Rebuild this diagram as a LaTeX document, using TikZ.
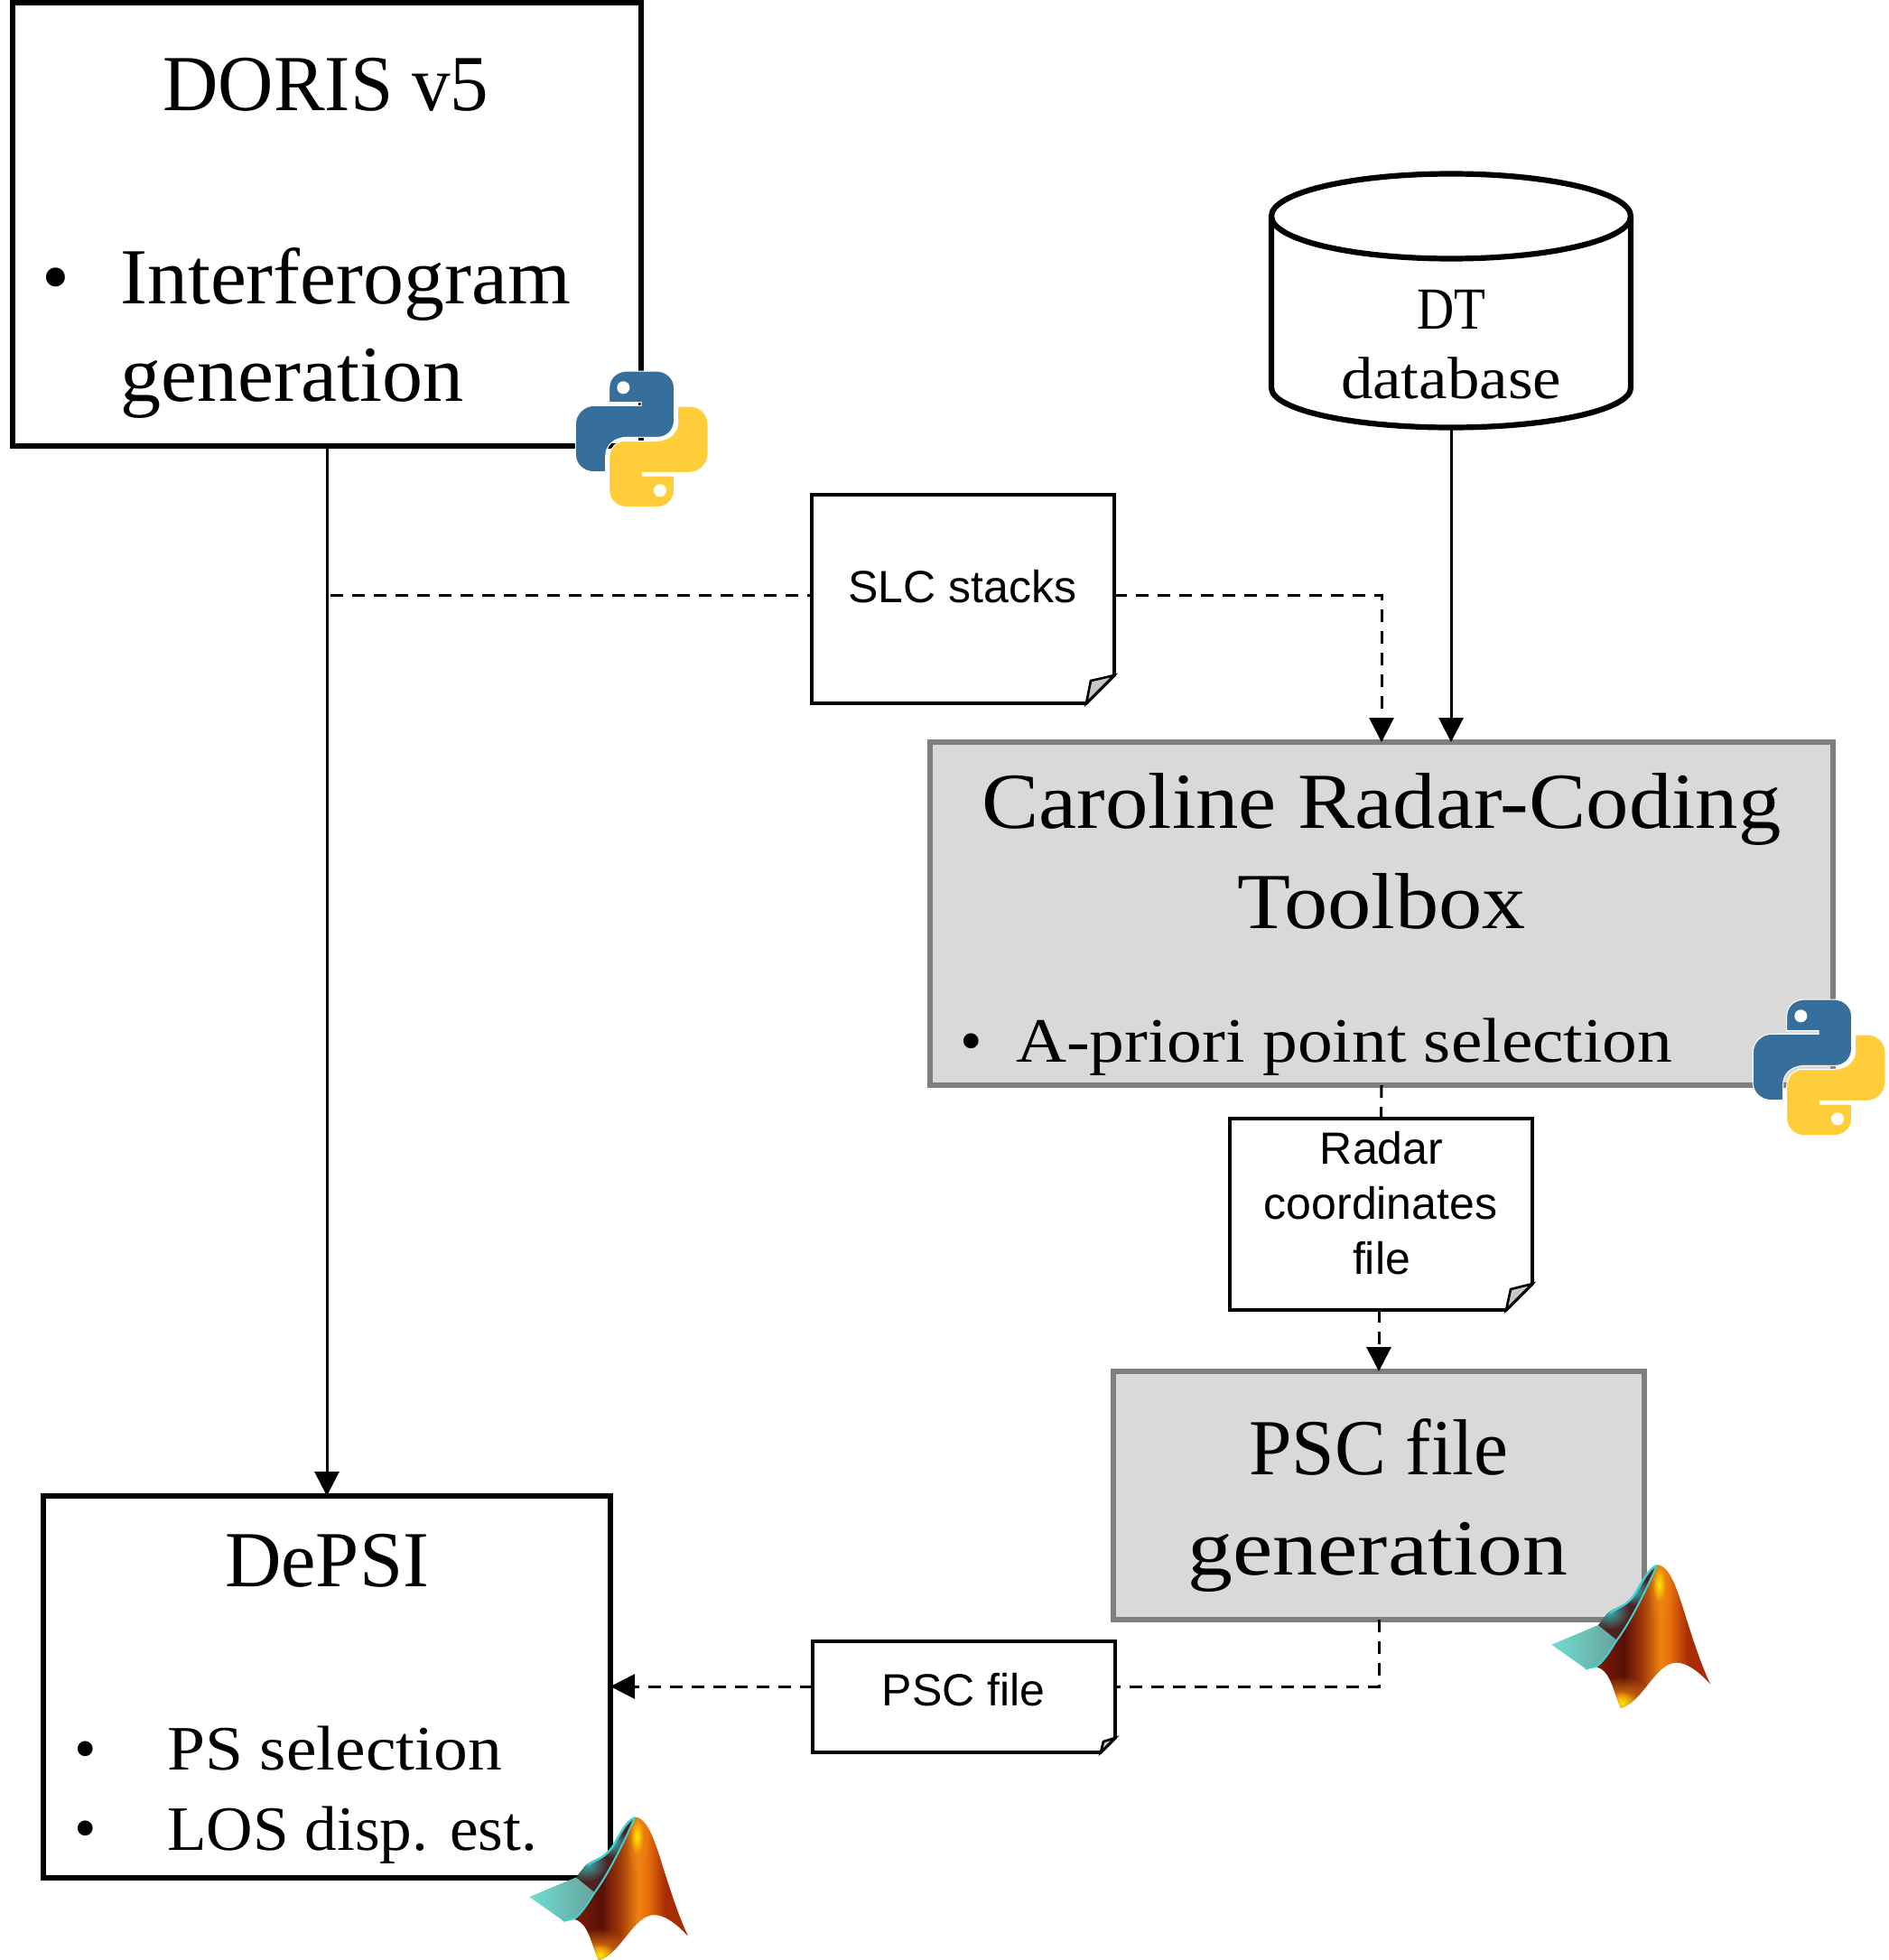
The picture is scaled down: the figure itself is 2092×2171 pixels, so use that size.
\documentclass[tikz,border=0pt]{standalone}
\usepackage{fontspec}
\usepackage{graphicx}
\setmainfont{Liberation Serif}
\newfontfamily\notefont{Liberation Sans}
\usetikzlibrary{arrows.meta,calc,fadings}
\tikzfading[name=spot, inner color=transparent!0, outer color=transparent!100]
\definecolor{boxgrey}{HTML}{D9D9D9}
\definecolor{edgegrey}{HTML}{7F7F7F}
\definecolor{pyblue}{HTML}{366E9C}
\definecolor{pyyellow}{HTML}{FFCC3A}
\definecolor{mla}{HTML}{7A1A06}
\definecolor{mlb}{HTML}{5A1006}
\definecolor{mlc}{HTML}{A0380A}
\definecolor{mld}{HTML}{EE8410}
\definecolor{mle}{HTML}{E8700C}
\definecolor{mlf}{HTML}{A82C06}
\definecolor{mlteal}{HTML}{70DDD0}
\definecolor{mlgrey}{HTML}{66A09A}
\definecolor{mlcyan}{HTML}{40D0D0}
\definecolor{mldark}{HTML}{4F2020}
\definecolor{mlyellow}{HTML}{FFE800}
\pgfdeclarehorizontalshading{mlbody}{100bp}{color(0bp)=(mla); color(25bp)=(mla); color(37bp)=(mlb); color(45bp)=(mlc); color(53bp)=(mld); color(57bp)=(mle); color(65bp)=(mlf); color(100bp)=(mlf)}
\newcommand{\fitw}[3]{\resizebox{#1pt}{\height}{\fontsize{#2pt}{#2pt}\selectfont #3}}
\tikzset{
  plainbox/.style={draw=black,line width=6pt,fill=white,inner sep=0pt,outer sep=0pt},
  greybox/.style={draw=edgegrey,line width=6pt,fill=boxgrey,inner sep=0pt,outer sep=0pt},
  notebox/.style={inner sep=0pt,outer sep=0pt},
  notepath/.style={draw=black,line width=3.6pt,fill=white,line join=miter},
  foldpath/.style={draw=black,line width=2.6pt,fill=black!22,line join=miter},
  cylpath/.style={draw=black,line width=6.2pt,fill=white,line join=round},
  solidflow/.style={draw=black,line width=3pt,-{Triangle[length=27pt,width=27pt]}},
  dashflow/.style={draw=black,line width=3pt,dash pattern=on 14pt off 10pt},
  dashhead/.style={dashflow,-{Triangle[length=27pt,width=27pt]}},
  bigtext/.style={inner sep=0pt,anchor=base,text=black},
  leftext/.style={inner sep=0pt,anchor=base west,text=black},
  sanstext/.style={inner sep=0pt,anchor=base,text=black,font=\notefont\fontsize{50pt}{50pt}\selectfont},
  pics/python/.style={code={
    \begin{scope}[scale=1/3]
    \path[fill=pyblue,draw=white,line width=1pt] (224,197) -- (224,150) .. controls (224,115) and (250,93) .. (285,93)
      -- (380,93) .. controls (415,93) and (440,118) .. (440,150) -- (440,255) .. controls (440,290) and (415,313) .. (385,313)
      -- (285,313) .. controls (240,313) and (212,340) .. (212,375) -- (212,428) -- (175,428)
      .. controls (135,428) and (112,400) .. (112,370) -- (112,270) .. controls (112,235) and (140,208) .. (175,208)
      -- (330,208) -- (330,197) -- cycle;
    \path[fill=white] (271,148) circle (21);
    \path[fill=pyyellow,draw=white,line width=1pt] (440,441) -- (440,488) .. controls (440,523) and (414,545) .. (379,545)
      -- (284,545) .. controls (249,545) and (224,520) .. (224,488) -- (224,383) .. controls (224,348) and (249,325) .. (279,325)
      -- (379,325) .. controls (424,325) and (452,298) .. (452,263) -- (452,210) -- (489,210)
      .. controls (529,210) and (552,238) .. (552,268) -- (552,368) .. controls (552,403) and (524,430) .. (489,430)
      -- (334,430) -- (334,441) -- cycle;
    \path[fill=white] (393,490) circle (21);
    \end{scope}
  }},
  pics/matlab/.style={code={
    \begin{scope}[scale=1/3]
    % flat teal sheet
    \shade[left color=mlteal,right color=mlgrey] (55,365) -- (210,300) -- (285,350) -- (225,432) -- (168,445) -- cycle;
    % dark fold behind the ridge
    \begin{scope}
    \clip (210,300) -- (240,262) .. controls (262,240) and (300,240) .. (330,200)
      .. controls (350,170) and (365,130) .. (400,102) -- (420,130) -- (285,365) -- (272,350) -- cycle;
    \path[fill=mldark] (200,90) rectangle (430,370);
    \path[fill=mlcyan!85!black,path fading=spot] (245,255) ellipse (70 and 60);
    \path[fill=mlcyan!85!black,path fading=spot] (330,185) ellipse (55 and 50);
    \end{scope}
    % orange surface
    \begin{scope}
    \clip (408,100) .. controls (450,105) and (475,190) .. (500,270) .. controls (525,350) and (555,440) .. (583,497)
      .. controls (545,455) and (505,425) .. (470,425) .. controls (400,425) and (360,555) .. (285,575)
      .. controls (260,520) and (250,450) .. (205,440) .. controls (235,415) and (258,370) .. (272,350)
      .. controls (320,285) and (375,170) .. (405,102) -- cycle;
    \shade[shading=mlbody] (205,90) rectangle (583,580);
    \path[fill=mld,path fading=spot] (415,175) ellipse (40 and 120);
    \path[fill=mlyellow,path fading=spot] (412,165) ellipse (22 and 60);
    \path[fill=mld,path fading=spot] (285,545) ellipse (110 and 75);
    \path[fill=mlyellow,path fading=spot] (288,560) ellipse (55 and 40);
    \end{scope}
    % cyan ridge
    \draw[mlcyan,line width=2pt,line cap=round] (168,445) .. controls (190,440) and (205,437) .. (205,437) .. controls (235,415) and (258,370) .. (272,350) .. controls (320,285) and (375,170) .. (405,102);
    \draw[mlcyan,line width=2.4pt,line cap=round] (405,102) .. controls (375,112) and (350,170) .. (330,200) .. controls (305,235) and (280,240) .. (250,258);
    \end{scope}
  }}
}
\begin{document}
\begin{tikzpicture}[x=1pt,y=-1pt]
\useasboundingbox (0,0) rectangle (2092,2171);
% ---- boxes
\node[plainbox,minimum width=696pt,minimum height=491pt] (doris) at (362,248.5) {};
\node[plainbox,minimum width=628pt,minimum height=423pt] (depsi) at (362,1868.5) {};
\node[greybox,minimum width=1000pt,minimum height=380pt] (caroline) at (1530,1012) {};
\node[greybox,minimum width=588pt,minimum height=275pt] (pscgen) at (1527,1656.5) {};
\node[notebox,minimum width=398pt,minimum height=281pt] (dt) at (1607,333) {};
% ---- notes (anchors only; outlines drawn below)
\node[notebox,minimum width=335pt,minimum height=231pt] (slc) at (1066.5,663.5) {};
\node[notebox,minimum width=335pt,minimum height=212pt] (radar) at (1529.5,1345) {};
\node[notebox,minimum width=335pt,minimum height=123pt] (pscnote) at (1067.5,1879.5) {};
\coordinate (tap) at (366,659);
\coordinate (pscrow) at (1527,1868);
% ---- connectors
\draw[solidflow] (doris.south) -- (depsi.north);
\draw[solidflow] (dt.south) -- (dt.south |- caroline.north);
\draw[dashflow] (tap) -- (tap -| slc.west);
\draw[dashhead] (tap -| slc.east) -| (caroline.north);
\draw[dashflow] (caroline.south) -- (radar.north);
\draw[dashhead] (pscgen.north |- radar.south) -- (pscgen.north);
\draw[dashflow] (pscgen.south) |- (pscrow -| pscnote.east);
\draw[dashhead] (pscrow -| pscnote.west) -- (pscrow -| depsi.east);
% ---- cylinder outline (y axis points down, so angles run clockwise on the page)
\draw[cylpath] ($(dt.north west)+(0,47)$) arc[start angle=180,end angle=360,x radius=199,y radius=47]
  -- ($(dt.south east)+(0,-44)$) arc[start angle=0,end angle=180,x radius=199,y radius=44] -- cycle;
\draw[cylpath,fill=none] ($(dt.north west)+(0,47)$) arc[start angle=180,end angle=0,x radius=199,y radius=47];
% ---- note outlines
\draw[notepath] (slc.north west) -- (slc.north east) -- ($(slc.south east)+(0,-31)$) -- ($(slc.south east)+(-31,0)$) -- (slc.south west) -- cycle;
\draw[foldpath] ($(slc.south east)+(0,-31)$) -- ($(slc.south east)+(-26,-25)$) -- ($(slc.south east)+(-31,0)$) -- cycle;
\draw[notepath] (radar.north west) -- (radar.north east) -- ($(radar.south east)+(0,-29)$) -- ($(radar.south east)+(-29,0)$) -- (radar.south west) -- cycle;
\draw[foldpath] ($(radar.south east)+(0,-29)$) -- ($(radar.south east)+(-24,-23)$) -- ($(radar.south east)+(-29,0)$) -- cycle;
\draw[notepath] (pscnote.north west) -- (pscnote.north east) -- ($(pscnote.south east)+(0,-16)$) -- ($(pscnote.south east)+(-16,0)$) -- (pscnote.south west) -- cycle;
\draw[foldpath] ($(pscnote.south east)+(0,-16)$) -- ($(pscnote.south east)+(-13,-12)$) -- ($(pscnote.south east)+(-16,0)$) -- cycle;
% ---- text
\node[bigtext] (t1) at (361,122) {\fitw{361}{88}{DORIS v5}};
\node[bigtext] (b1) at (62,336) {\fontsize{88pt}{88pt}\selectfont •};
\node[leftext] (t2) at (133,336) {\fitw{499}{88}{Interferogram}};
\node[leftext] (t3) at (133,444) {\fitw{380}{88}{generation}};
\node[bigtext] (t4) at (1607,364) {\fitw{76}{66}{DT}};
\node[bigtext] (t5) at (1607,441) {\fitw{244}{66}{database}};
\node[bigtext] (t6) at (1530,917) {\fitw{885}{88}{Caroline Radar-Coding}};
\node[bigtext] (t7) at (1530,1028) {\fitw{320}{88}{Toolbox}};
\node[bigtext] (b2) at (1076,1176) {\fontsize{70pt}{70pt}\selectfont •};
\node[leftext] (t8) at (1125,1176) {\fitw{727}{70}{A-priori point selection}};
\node[bigtext] (t9) at (1527,1633) {\fitw{287}{88}{PSC file}};
\node[bigtext] (t10) at (1526,1744) {\fitw{421}{88}{generation}};
\node[bigtext] (t11) at (362,1757) {\fitw{226}{88}{DePSI}};
\node[bigtext] (b3) at (95,1960) {\fontsize{70pt}{70pt}\selectfont •};
\node[leftext] (t12) at (185,1960) {\fitw{371}{70}{PS selection}};
\node[bigtext] (b4) at (95,2048) {\fontsize{70pt}{70pt}\selectfont •};
\node[leftext] (t13) at (185,2049) {\fitw{410}{70}{LOS disp. est.}};
\node[sanstext] (n1) at (1066,667) {SLC stacks};
\node[sanstext] (n2) at (1530,1289) {Radar};
\node[sanstext] (n3) at (1529,1350) {coordinates};
\node[sanstext] (n4) at (1530,1411) {file};
\node[sanstext] (n5) at (1067,1889) {PSC file};
% ---- logos
\pic at (600,380) {python};
\pic at (1904,1076) {python};
\pic at (1700,1700) {matlab};
\pic at (568,1979.4) {matlab};
\end{tikzpicture}
\end{document}
